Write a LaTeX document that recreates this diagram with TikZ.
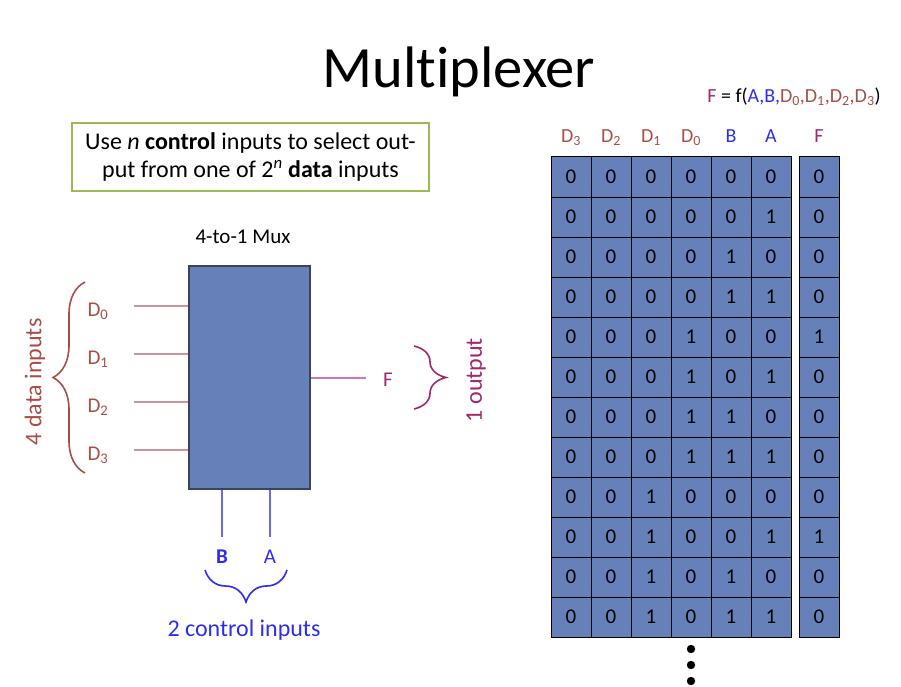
\documentclass[tikz,border=0pt]{standalone}
\usepackage{fontspec}
\setmainfont{Carlito}[Ligatures=NoCommon]
\usetikzlibrary{positioning,decorations.pathreplacing,calc}
\definecolor{muxblue}{RGB}{102,129,185}
\definecolor{muxedge}{RGB}{60,68,88}
\definecolor{notegreen}{RGB}{155,187,89}
\definecolor{datared}{RGB}{168,78,72}
\definecolor{datawire}{RGB}{206,150,150}
\definecolor{outmag}{RGB}{160,40,110}
\definecolor{outwire}{RGB}{205,120,175}
\definecolor{ctrlblue}{RGB}{45,45,240}
\definecolor{ctrlwire}{RGB}{105,105,235}
\tikzset{
  cell/.style={draw=black, fill=muxblue, line width=1pt, minimum size=40pt, inner sep=0pt, font=\fontsize{21}{25}\selectfont},
  hdr/.style={font=\fontsize{20}{24}\selectfont, inner sep=0pt},
  lbl/.style={font=\fontsize{21}{25}\selectfont, inner sep=0pt},
  grp/.style={font=\fontsize{24}{28}\selectfont, inner sep=0pt},
  wire/.style={line width=1.3pt},
  grpbrace/.style={decorate, decoration={brace, amplitude=32pt}, line width=1.6pt},
}

\begin{document}
\begin{tikzpicture}[x=1pt, y=-1pt]
  \useasboundingbox (0,0) rectangle (901,687);

  % title and note
  \node[font=\fontsize{58.5}{64}\selectfont, inner sep=0pt] (title) at (459,72) {Multiplexer};
  \node[draw=notegreen, line width=2.6pt, minimum width=357pt, minimum height=68pt, align=center,
        font=\fontsize{24}{28}\selectfont] (note) at (250.5,157)
    {Use \emph{n} \textbf{control} inputs to select out-\\put from one of 2\textsuperscript{\emph{n}} \textbf{data} inputs};

  % the mux
  \node[lbl] (muxname) at (243,237) {4-to-1 Mux};
  \node[draw=muxedge, fill=muxblue, line width=1.2pt, minimum width=121pt, minimum height=223pt] (mux) at (249.5,377.5) {};

  % data inputs
  \foreach \k/\y in {0/306,1/354,2/402,3/450}{
    \coordinate (din\k) at (134,\y);
    \draw[wire, datawire] (din\k) -- (din\k -| mux.west);
    \node[lbl, text=datared] (dlbl\k) at (98,\y+5) {D\textsubscript{\k}};
  }
  \coordinate (dtop) at (85,282);
  \coordinate (dbot) at (85,473);
  \draw[grpbrace, datared] (dbot) -- (dtop);
  \node[grp, text=datared, rotate=90] (dgrp) at (35,382) {4 data inputs};

  % output
  \coordinate (fout) at (366,378);
  \draw[wire, outwire] (mux.east |- fout) -- (fout);
  \node[lbl, text=outmag] (flbl) at (388,380) {F};
  \coordinate (ftop) at (414,346);
  \coordinate (fbot) at (414,409);
  \draw[grpbrace, outmag] (ftop) -- (fbot);
  \node[grp, text=outmag, rotate=90] (fgrp) at (476,380) {1 output};

  % control inputs
  \coordinate (bend) at (222,537);
  \coordinate (aend) at (270,537);
  \draw[wire, ctrlwire] (bend |- mux.south) -- (bend);
  \draw[wire, ctrlwire] (aend |- mux.south) -- (aend);
  \node[lbl, text=ctrlblue, font=\fontsize{21}{25}\bfseries\selectfont] (blbl) at (222,557) {B};
  \node[lbl, text=ctrlblue] (albl) at (270,557) {A};
  \coordinate (cleft) at (205,570);
  \coordinate (cright) at (287,570);
  \draw[grpbrace, ctrlblue] (cright) -- (cleft);
  \node[grp, text=ctrlblue] (cgrp) at (244,630) {2 control inputs};

  % truth table
  \node[hdr] (fn) at (794,97) {\textcolor{outmag}{F} = f(\textcolor{ctrlblue}{A,B,}\textcolor{datared}{D\textsubscript{0},D\textsubscript{1},D\textsubscript{2},D\textsubscript{3}})};
  \foreach \bits [count=\r from 0] in {{0,0,0,0,0,0,0},{0,0,0,0,0,1,0},{0,0,0,0,1,0,0},{0,0,0,0,1,1,0},
                                      {0,0,0,1,0,0,1},{0,0,0,1,0,1,0},{0,0,0,1,1,0,0},{0,0,0,1,1,1,0},
                                      {0,0,1,0,0,0,0},{0,0,1,0,0,1,1},{0,0,1,0,1,0,0},{0,0,1,0,1,1,0}}{
    \foreach \b [count=\c] in \bits{
      \ifnum\c<7
        \node[cell] (c-\r-\c) at (531+40*\c,177+40*\r) {\b};
      \else
        \node[cell] (c-\r-\c) at (819,177+40*\r) {\b};
      \fi
    }
  }
  \foreach \c/\t/\col in {1/D\textsubscript{3}/datared,2/D\textsubscript{2}/datared,3/D\textsubscript{1}/datared,
                          4/D\textsubscript{0}/datared,5/B/ctrlblue,6/A/ctrlblue,7/F/outmag}{
    \node[hdr, text=\col, anchor=base] (h\c) at ($(c-0-\c.north)+(0,-14)$) {\t};
  }

  % more rows
  \foreach \y [count=\i] in {649,665,681}{
    \fill (691,\y) circle (4.2pt);
  }
\end{tikzpicture}
\end{document}
